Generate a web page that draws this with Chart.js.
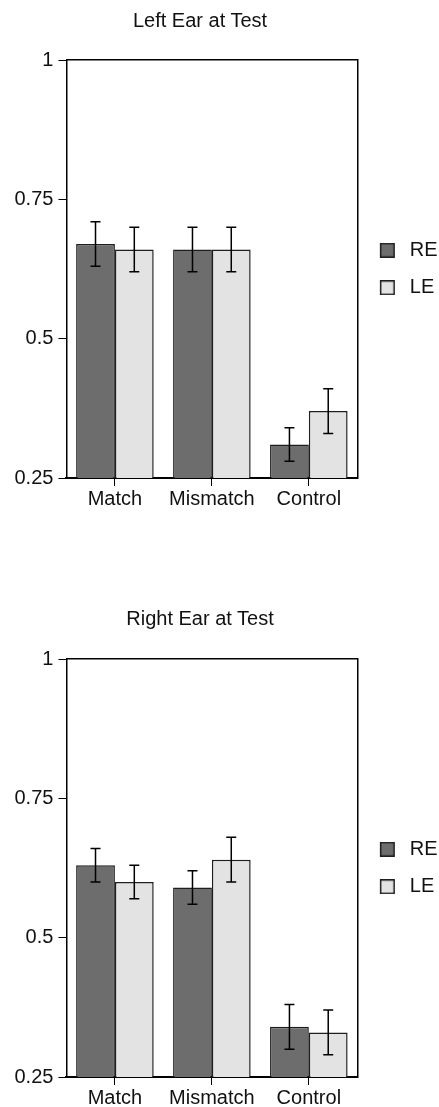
<!DOCTYPE html>
<html lang="en">
<head>
<meta charset="utf-8">
<title>Left / Right Ear at Test</title>
<script src="https://cdn.jsdelivr.net/npm/chart.js"></script>
<style>
  html, body { margin: 0; padding: 0; background: #fff; overflow: hidden; }
  body { width: 439px; height: 1107px; position: relative; font-family: 'Liberation Sans', Arial, sans-serif; }
  .panel { position: absolute; left: 0; width: 448px; height: 512px; }
  .panel h3 { position: absolute; left: 0; width: 400px; margin: 0; font-size: 20px; font-weight: normal; line-height: 24px; text-align: center; color: #111; }
</style>
</head>
<body>
<div class="panel" style="top:0">
  <h3 style="top:8px">Left Ear at Test</h3>
  <canvas id="left-ear-chart"></canvas>
</div>
<div class="panel" style="top:599px">
  <h3 style="top:7px">Right Ear at Test</h3>
  <canvas id="right-ear-chart"></canvas>
</div>
<script>
// Values
const categories = ['Match', 'Mismatch', 'Control'];
const seriesNames = ['RE', 'LE'];

const leftEarRE = [0.67, 0.66, 0.31];
const leftEarREErr = [0.04, 0.04, 0.03];
const leftEarLE = [0.66, 0.66, 0.37];
const leftEarLEErr = [0.04, 0.04, 0.04];

const rightEarRE = [0.63, 0.59, 0.34];
const rightEarREErr = [0.03, 0.03, 0.04];
const rightEarLE = [0.60, 0.64, 0.33];
const rightEarLEErr = [0.03, 0.04, 0.04];

const yMin = 0.25;
const yMax = 1;
const yStep = 0.25;

const RE_COLOR = '#6d6d6d';
const LE_COLOR = '#e3e3e3';
const EDGE = '#1e1e1e';

Chart.defaults.font.family = "'Liberation Sans', Arial, Helvetica, sans-serif";
Chart.defaults.font.size = 20;
Chart.defaults.color = '#111';

// Small square swatch for the legend (extra room on the left of the box)
function legendSwatch(fill) {
    const c = document.createElement('canvas');
    c.width = 25;
    c.height = 15;
    const g = c.getContext('2d');
    g.fillStyle = fill;
    g.fillRect(5.75, 0.75, 13.5, 13.5);
    g.lineWidth = 1.5;
    g.strokeStyle = EDGE;
    g.strokeRect(5.75, 0.75, 13.5, 13.5);
    return c;
}
const swatches = [legendSwatch(RE_COLOR), legendSwatch(LE_COLOR)];

// Error bars: whisker with caps, drawn through the y scale
const errorBars = {
    id: 'errorBars',
    afterDatasetsDraw(chart) {
        const ctx = chart.ctx;
        const yScale = chart.scales.y;
        ctx.save();
        ctx.strokeStyle = '#000';
        ctx.lineWidth = 1.5;
        chart.data.datasets.forEach((ds, i) => {
            const meta = chart.getDatasetMeta(i);
            meta.data.forEach((bar, j) => {
                const top = yScale.getPixelForValue(ds.data[j] + ds.errors[j]);
                const bottom = yScale.getPixelForValue(ds.data[j] - ds.errors[j]);
                ctx.beginPath();
                ctx.moveTo(bar.x, top);
                ctx.lineTo(bar.x, bottom);
                ctx.moveTo(bar.x - 5, top);
                ctx.lineTo(bar.x + 5, top);
                ctx.moveTo(bar.x - 5, bottom);
                ctx.lineTo(bar.x + 5, bottom);
                ctx.stroke();
            });
        });
        ctx.restore();
    }
};

function createEarChart(canvasId, reValues, reErrors, leValues, leErrors) {
    const ctx = document.getElementById(canvasId).getContext('2d');
    return new Chart(ctx, {
        type: 'bar',
        data: {
            labels: categories,
            datasets: [
                { label: seriesNames[0], data: reValues, errors: reErrors, backgroundColor: RE_COLOR, borderColor: EDGE, borderWidth: 1.5 },
                { label: seriesNames[1], data: leValues, errors: leErrors, backgroundColor: LE_COLOR, borderColor: EDGE, borderWidth: 1.5 }
            ]
        },
        options: {
            responsive: true,
            maintainAspectRatio: false,
            animation: false,
            layout: { padding: { top: 60, left: 9.5, right: 0.4, bottom: 0 } },
            datasets: { bar: { categoryPercentage: 0.8, barPercentage: 1.0 } },
            scales: {
                x: {
                    grid: { offset: false, drawOnChartArea: false, tickLength: 8, color: '#000' },
                    border: { color: '#000', width: 2 },
                    ticks: { padding: 1, color: '#111' }
                },
                y: {
                    min: yMin,
                    max: yMax,
                    ticks: { stepSize: yStep, padding: 5, color: '#111', format: { minimumFractionDigits: 0, maximumFractionDigits: 2 } },
                    grid: { drawOnChartArea: false, tickLength: 8, color: '#000' },
                    border: { color: '#000', width: 1.5 }
                },
                // top and right edges of the frame
                x2: {
                    type: 'category',
                    position: 'top',
                    grid: { display: false, drawTicks: false },
                    ticks: { display: false },
                    border: { color: '#000', width: 1.5 }
                },
                y2: {
                    type: 'linear',
                    position: 'right',
                    grid: { display: false, drawTicks: false },
                    ticks: { display: false },
                    border: { color: '#000', width: 1.5 }
                }
            },
            plugins: {
                legend: {
                    position: 'right',
                    align: 'center',
                    fullSize: false,
                    maxWidth: 200,
                    labels: {
                        usePointStyle: true,
                        pointStyleWidth: 25,
                        padding: 17.5,
                        color: '#111',
                        generateLabels(chart) {
                            const items = Chart.defaults.plugins.legend.labels.generateLabels(chart);
                            items.forEach(item => { item.pointStyle = swatches[item.datasetIndex]; });
                            return items;
                        }
                    }
                },
                tooltip: { enabled: false }
            }
        },
        plugins: [errorBars]
    });
}

createEarChart('left-ear-chart', leftEarRE, leftEarREErr, leftEarLE, leftEarLEErr);
createEarChart('right-ear-chart', rightEarRE, rightEarREErr, rightEarLE, rightEarLEErr);
</script>
</body>
</html>
